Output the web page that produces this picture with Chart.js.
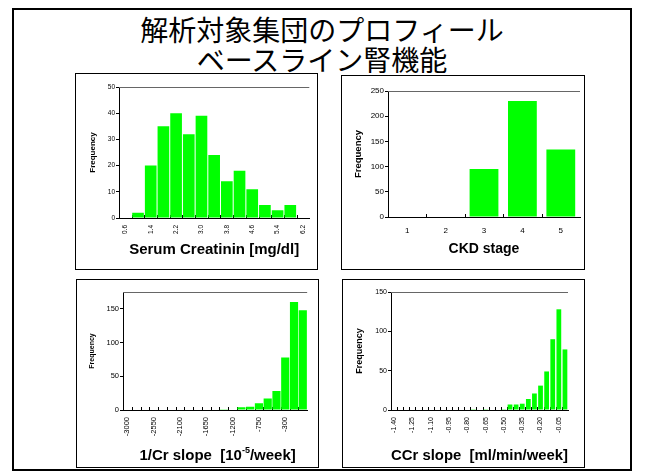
<!DOCTYPE html>
<html>
<head>
<meta charset="utf-8">
<script src="https://cdn.jsdelivr.net/npm/chart.js@4.4.0/dist/chart.umd.min.js"></script>
<style>
  body { margin: 0; width: 645px; height: 475px; background: #fff; position: relative; overflow: hidden; }
  #frame { position: absolute; left: 12px; top: 8px; width: 620px; height: 463px; border: 2px solid #000; box-sizing: border-box; }
  #title { position: absolute; left: 12px; width: 620px; top: 14px; text-align: center; font-family: "Noto Sans CJK JP", sans-serif; font-size: 28px; line-height: 30px; color: #000; }
  .panel { position: absolute; outline: 1px solid #000; outline-offset: -1px; }
  .panel canvas { position: absolute; left: 0; top: 0; }
</style>
</head>
<body>
<div id="frame"></div>
<div id="title">解析対象集団のプロフィール<br>ベースライン腎機能</div>
<div class="panel" id="p1"><canvas></canvas></div>
<div class="panel" id="p2"><canvas></canvas></div>
<div class="panel" id="p3"><canvas></canvas></div>
<div class="panel" id="p4"><canvas></canvas></div>
<script>
const creatininBins = ['0.6', '1.0', '1.4', '1.8', '2.2', '2.6', '3.0', '3.4', '3.8', '4.2', '4.6', '5.0', '5.4', '5.8', '6.2'];
const creatininFreq = [0, 2, 20, 35, 40, 32, 39, 24, 14, 18, 11, 5, 3, 5, 0];

const ckdStages = ['1', '2', '3', '4', '5'];
const ckdFreq = [0, 1, 95, 230, 134];

const invCrBins = ['-3000', '-2850', '-2700', '-2550', '-2400', '-2250', '-2100', '-1950', '-1800', '-1650', '-1500',
    '-1350', '-1200', '-1050', '-900', '-750', '-600', '-450', '-300', '-150', '0'];
const invCrFreq = [0, 0, 0, 0, 0, 0, 0, 0, 0, 0, 0, 1, 0, 4, 5, 10, 17, 28, 78, 160, 148];

const ccrBins = ['-1.40', '-1.35', '-1.30', '-1.25', '-1.20', '-1.15', '-1.10', '-1.05', '-1.00', '-0.95',
    '-0.90', '-0.85', '-0.80', '-0.75', '-0.70', '-0.65', '-0.60', '-0.55', '-0.50', '-0.45',
    '-0.40', '-0.35', '-0.30', '-0.25', '-0.20', '-0.15', '-0.10', '-0.05', '0.00'];
const ccrFreq = [0, 0, 0, 0, 0, 0, 0, 0, 0, 0, 0, 0, 0, 1, 0, 1, 0, 0, 1, 7, 7, 8, 14, 21, 31, 49, 90, 128, 77];

const FONT = '"Liberation Sans", Arial, sans-serif';

// top border of the plot area + small inward tick marks between categories
const plotFrame = {
    id: 'plotFrame',
    beforeDatasetsDraw(chart) {
        const { ctx, chartArea: a } = chart;
        const x = chart.scales.x;
        ctx.save();
        ctx.lineWidth = 1;
        ctx.strokeStyle = '#000';
        ctx.beginPath();
        for (let i = 1; i < x.ticks.length; i++) {
            const px = Math.round((x.getPixelForTick(i - 1) + x.getPixelForTick(i)) / 2) + 0.5;
            ctx.moveTo(px, a.bottom);
            ctx.lineTo(px, a.bottom - 3);
        }
        ctx.stroke();
        ctx.strokeStyle = '#666';
        ctx.beginPath();
        ctx.moveTo(a.left, Math.round(a.top) + 0.5);
        ctx.lineTo(a.right, Math.round(a.top) + 0.5);
        ctx.stroke();
        ctx.restore();
    }
};

// x title with a superscript part (Chart.js titles are plain strings)
const supTitle = {
    id: 'supTitle',
    afterDraw(chart, args, opts) {
        if (!opts.parts) return;
        const { ctx, chartArea: a } = chart;
        ctx.save();
        ctx.fillStyle = '#000';
        ctx.textBaseline = 'middle';
        ctx.textAlign = 'left';
        let w = 0;
        opts.parts.forEach(p => {
            ctx.font = 'bold ' + p.size + 'px ' + FONT;
            w += ctx.measureText(p.text).width;
        });
        let x = (a.left + a.right) / 2 + opts.shift - w / 2;
        opts.parts.forEach(p => {
            ctx.font = 'bold ' + p.size + 'px ' + FONT;
            ctx.fillText(p.text, x, opts.y + p.rise);
            x += ctx.measureText(p.text).width;
        });
        ctx.restore();
    }
};

function makeHist(id, cfg) {
    const [bx, by, bw, bh] = cfg.box;
    const [l, t, r, b] = cfg.area;
    const wrap = document.getElementById(id);
    wrap.style.left = bx + 'px';
    wrap.style.top = by + 'px';
    wrap.style.width = bw + 'px';
    wrap.style.height = bh + 'px';
    const canvas = wrap.querySelector('canvas');
    canvas.width = bw;
    canvas.height = bh;

    new Chart(canvas, {
        type: 'bar',
        data: {
            labels: cfg.labels,
            datasets: [{
                data: cfg.values,
                backgroundColor: '#00ff00',
                barPercentage: cfg.barPct,
                categoryPercentage: 1
            }]
        },
        options: {
            responsive: false,
            animation: false,
            devicePixelRatio: 1,
            layout: { padding: { left: 0, top: t - by, right: bx + bw - r, bottom: 0 } },
            plugins: {
                legend: { display: false },
                tooltip: { enabled: false },
                supTitle: cfg.supTitle || {}
            },
            scales: {
                x: {
                    grid: { display: false, drawTicks: false },
                    border: { display: true, color: '#000', width: 1 },
                    ticks: {
                        autoSkip: false,
                        minRotation: cfg.rot,
                        maxRotation: cfg.rot,
                        padding: cfg.tickPad,
                        color: '#000',
                        font: { family: FONT, size: cfg.tickSize },
                        callback: (v, i) => (i % cfg.every === 0 ? cfg.labels[i] : '')
                    },
                    title: {
                        display: !!cfg.xTitle,
                        text: cfg.xTitle,
                        color: '#000',
                        font: { family: FONT, size: cfg.titleSize, weight: 'bold' },
                        padding: { top: 0, bottom: cfg.titlePad }
                    },
                    afterFit: s => { s.height = by + bh - b; }
                },
                y: {
                    min: 0,
                    max: cfg.yMax,
                    ticks: {
                        stepSize: cfg.yStep,
                        includeBounds: false,
                        padding: 1,
                        color: '#000',
                        font: { family: FONT, size: cfg.tickSize }
                    },
                    grid: { display: true, drawOnChartArea: false, drawTicks: true, tickLength: 3, color: '#000' },
                    border: { display: true, color: '#000', width: 1 },
                    title: {
                        display: true,
                        text: 'Frequency',
                        color: '#000',
                        font: { family: FONT, size: cfg.freqSize, weight: 'bold' },
                        padding: { top: cfg.freqPad, bottom: 0 }
                    },
                    afterFit: s => { s.width = l - bx; }
                }
            }
        },
        plugins: [plotFrame, supTitle]
    });
}

makeHist('p1', {
    box: [75, 73, 243, 197], area: [119, 87, 311, 218],
    labels: creatininBins, values: creatininFreq, barPct: 0.92,
    yMax: 50, yStep: 10, rot: 90, every: 2, tickPad: 7, tickSize: 6.5,
    xTitle: 'Serum Creatinin [mg/dl]', titleSize: 15, titlePad: 11,
    freqSize: 8, freqPad: 12.9
});

makeHist('p2', {
    box: [341, 75, 244, 195], area: [388, 91, 580, 217],
    labels: ckdStages, values: ckdFreq, barPct: 0.75,
    yMax: 250, yStep: 50, rot: 0, every: 1, tickPad: 9, tickSize: 8,
    xTitle: 'CKD stage', titleSize: 14, titlePad: 12,
    freqSize: 9.5, freqPad: 11.2
});

makeHist('p3', {
    box: [76, 279, 243, 189], area: [123, 292, 310, 410],
    labels: invCrBins, values: invCrFreq, barPct: 0.93,
    yMax: 175, yStep: 50, rot: 90, every: 3, tickPad: 7, tickSize: 7.5,
    xTitle: '',
    supTitle: {
        y: 176.5, shift: 2.5,
        parts: [
            { text: '1/Cr slope  [10', size: 15, rise: 0 },
            { text: '-5', size: 9, rise: -5 },
            { text: '/week]', size: 15, rise: 0 }
        ]
    },
    freqSize: 7, freqPad: 11.9
});

makeHist('p4', {
    box: [342, 279, 243, 189], area: [391, 292, 568, 410],
    labels: ccrBins, values: ccrFreq, barPct: 0.78,
    yMax: 150, yStep: 50, rot: 90, every: 3, tickPad: 7, tickSize: 7,
    xTitle: 'CCr slope  [ml/min/week]', titleSize: 15, titlePad: 3.2,
    freqSize: 9, freqPad: 12.5
});
</script>
</body>
</html>
